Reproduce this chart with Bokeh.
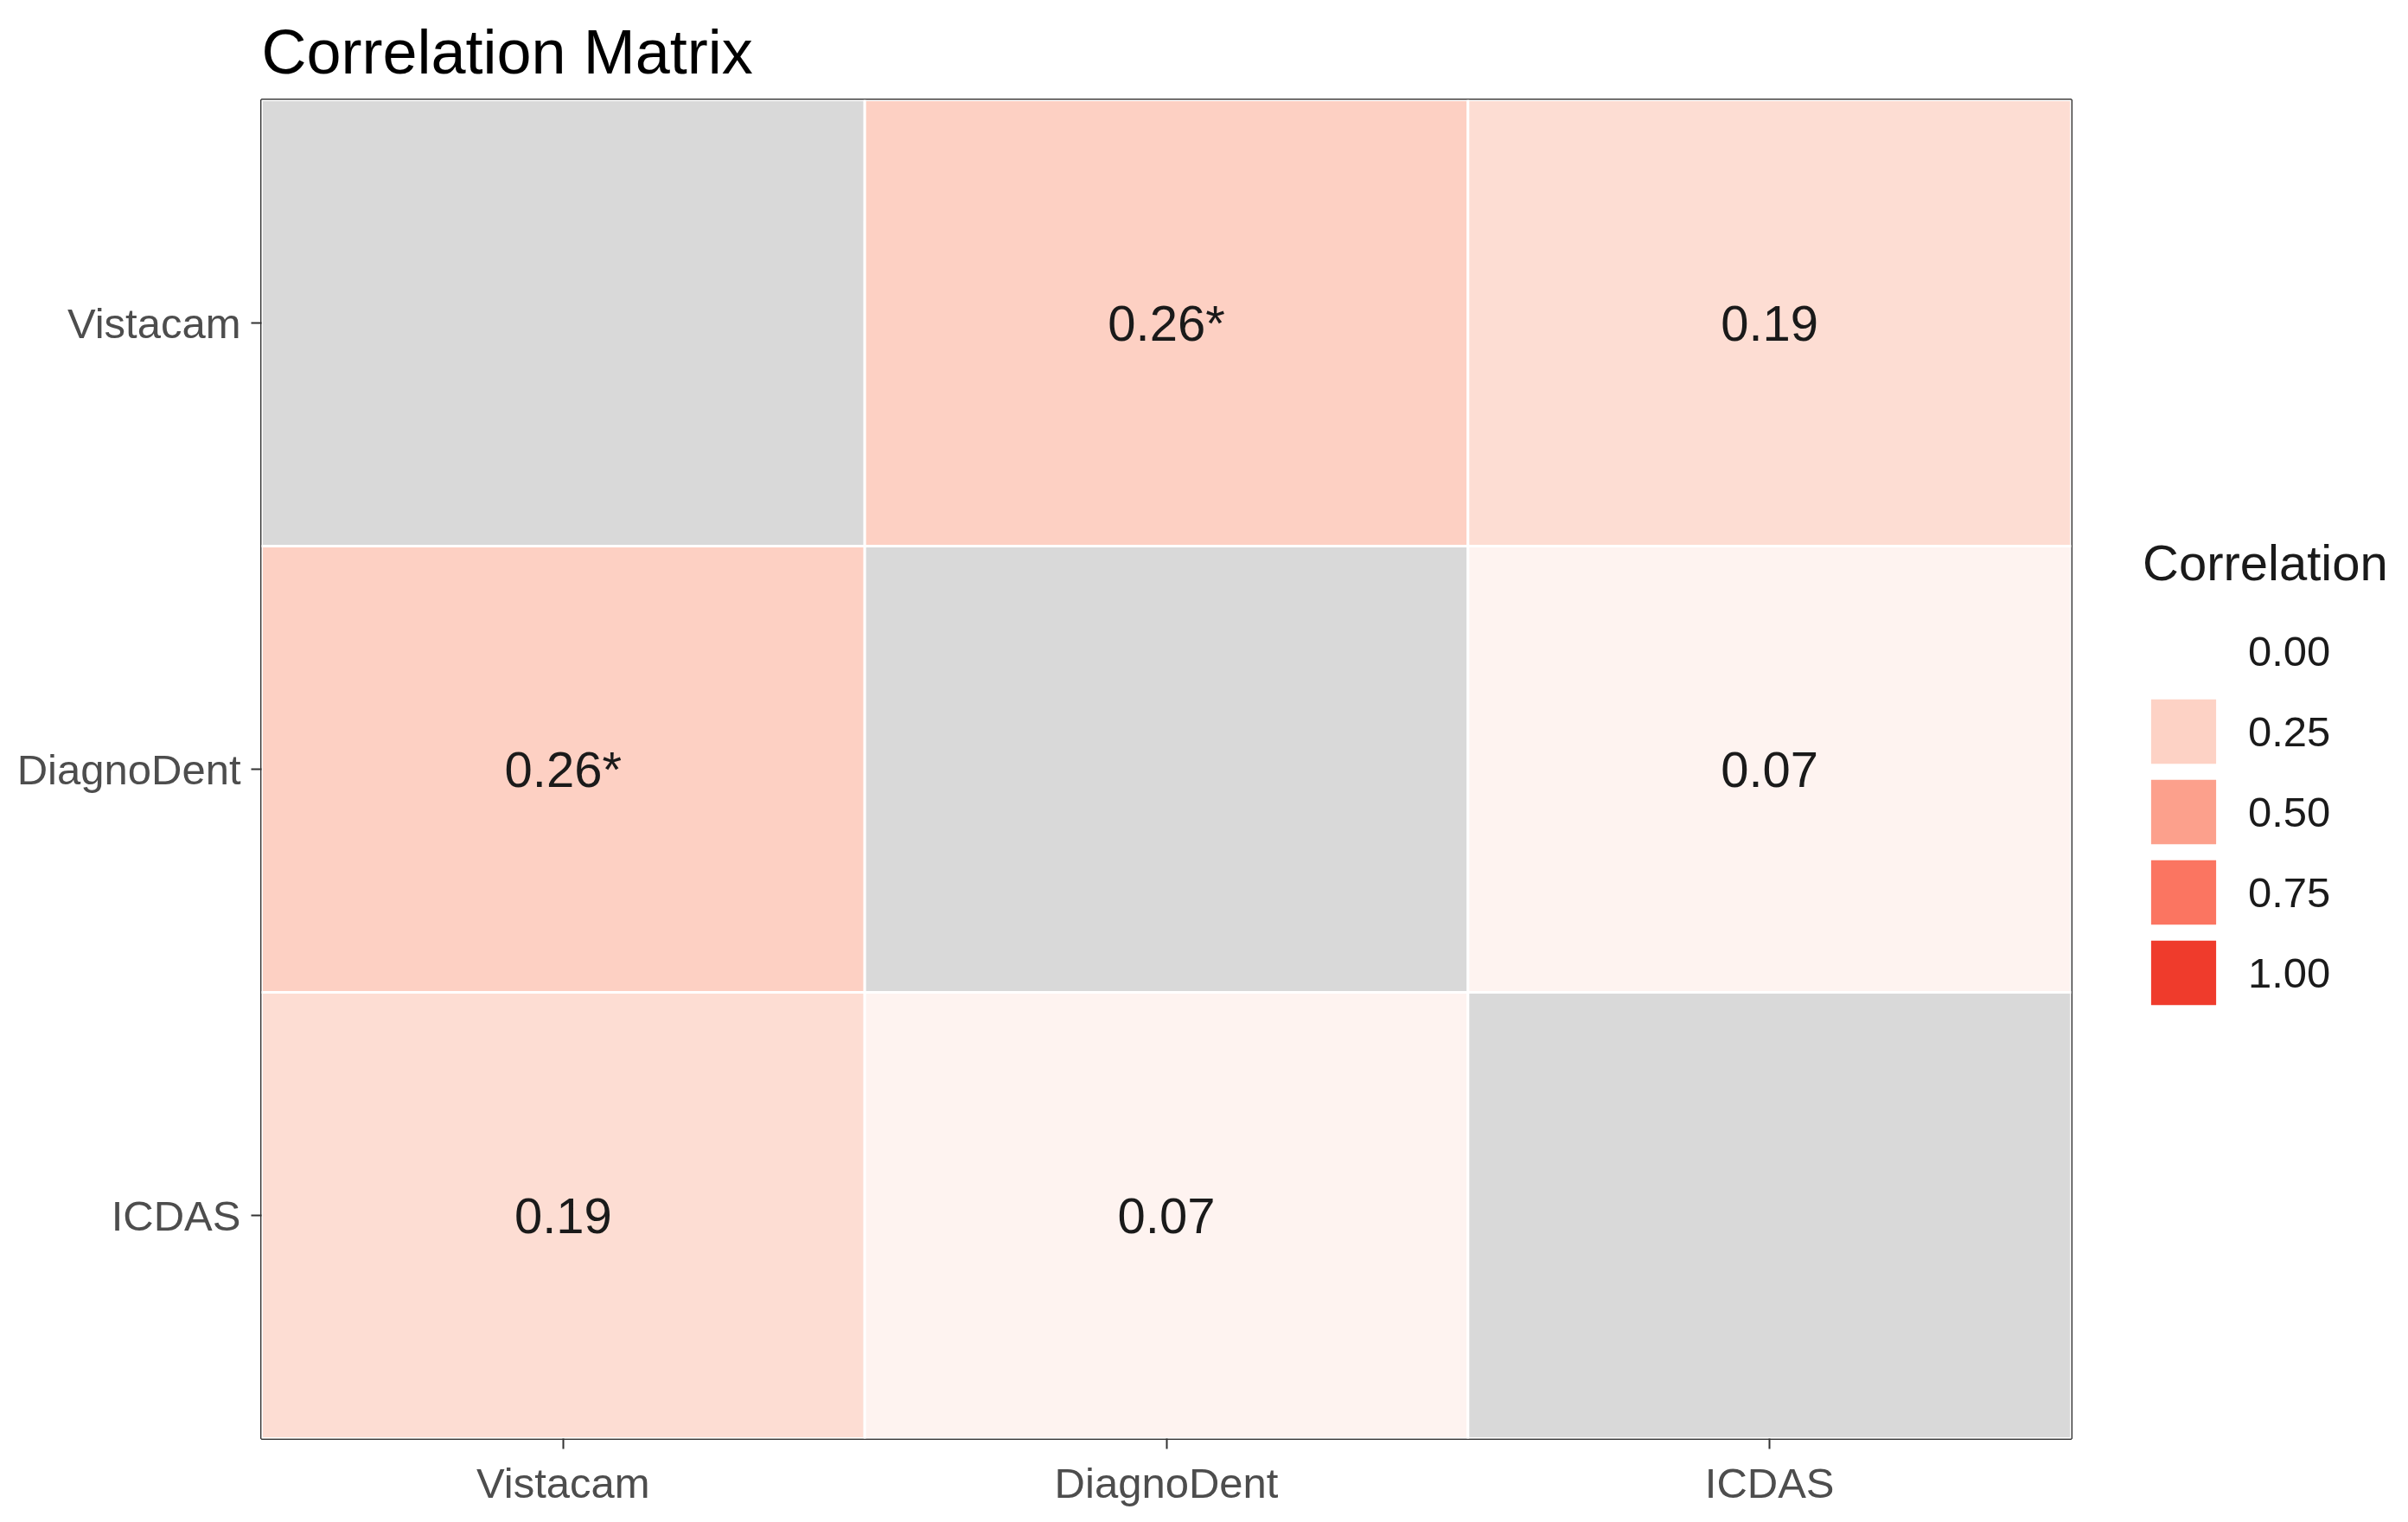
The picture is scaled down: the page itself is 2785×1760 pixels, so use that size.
import numpy as np
from bokeh.plotting import figure
from bokeh.layouts import row
from bokeh.models import ColumnDataSource, LinearColorMapper, Legend, LegendItem, FactorRange
from bokeh.core.properties import value
from bokeh.embed import file_html
from bokeh.resources import INLINE

# ---- data ----
variables = ["Vistacam", "DiagnoDent", "ICDAS"]
corr_vistacam = [np.nan, 0.26, 0.19]
corr_diagnodent = [0.26, np.nan, 0.07]
corr_icdas = [0.19, 0.07, np.nan]
label_vistacam = ["", "0.26*", "0.19"]
label_diagnodent = ["0.26*", "", "0.07"]
label_icdas = ["0.19", "0.07", ""]
legend_breaks = [0.00, 0.25, 0.50, 0.75, 1.00]
legend_labels = ["0.00", "0.25", "0.50", "0.75", "1.00"]

# colour scale anchors (white -> red)
anchor_vals = [0.0, 0.25, 0.5, 0.75, 1.0]
anchor_cols = [(255, 255, 255), (253, 210, 197), (252, 160, 140), (251, 117, 97), (239, 59, 44)]

def interp_color(v):
    for i in range(len(anchor_vals) - 1):
        if anchor_vals[i] <= v <= anchor_vals[i + 1]:
            t = (v - anchor_vals[i]) / (anchor_vals[i + 1] - anchor_vals[i])
            c = [round(a + (b - a) * t) for a, b in zip(anchor_cols[i], anchor_cols[i + 1])]
            return "#%02x%02x%02x" % tuple(c)
    return "#%02x%02x%02x" % anchor_cols[-1]

palette = [interp_color(i / 255) for i in range(256)]
mapper = LinearColorMapper(palette=palette, low=0, high=1, nan_color="#d9d9d9")

rows = [corr_vistacam, corr_diagnodent, corr_icdas]
lab_rows = [label_vistacam, label_diagnodent, label_icdas]
xs, ys, rs, labs = [], [], [], []
for i, yv in enumerate(variables):
    for j, xv in enumerate(variables):
        xs.append(xv)
        ys.append(yv)
        rs.append(rows[i][j])
        labs.append(lab_rows[i][j])
src = ColumnDataSource(dict(x=xs, y=ys, r=rs, lab=labs))

FONT = "Liberation Sans"
MAIN_W = 2435
TOTAL_W = 2777
H = 1744

p = figure(width=MAIN_W, height=H,
           x_range=FactorRange(factors=variables, range_padding=0),
           y_range=FactorRange(factors=variables[::-1], range_padding=0),
           output_backend="svg", toolbar_location=None,
           min_border_left=302, min_border_right=40, min_border_top=115, min_border_bottom=79,
           background_fill_color="white", border_fill_color="white")

p.rect(x="x", y="y", width=1, height=1, source=src,
       fill_color={"field": "r", "transform": mapper},
       line_color="white", line_width=3)
p.text(x="x", y="y", text="lab", source=src, text_align="center", text_baseline="middle",
       text_font=value(FONT), text_font_size="58px", text_color="#1a1a1a")

p.title.text = "Correlation Matrix"
p.title.text_font = FONT
p.title.text_font_size = "72px"
p.title.text_font_style = "normal"
p.title.text_color = "#000000"
p.title.align = "left"
p.title.vertical_align = "top"
p.title.offset = 0
p.title.standoff = 28

p.xgrid.visible = False
p.ygrid.visible = False
p.outline_line_color = "#333333"
p.outline_line_width = 3

for ax in (p.xaxis[0], p.yaxis[0]):
    ax.axis_line_color = None
    ax.major_tick_line_color = "#333333"
    ax.major_tick_line_width = 2
    ax.major_tick_out = 12
    ax.major_tick_in = 0
    ax.minor_tick_line_color = None
    ax.major_label_text_font = FONT
    ax.major_label_text_font_size = "49px"
    ax.major_label_text_color = "#4d4d4d"
    ax.major_label_standoff = 12

# ---- legend panel ----
lg = figure(width=TOTAL_W - MAIN_W, height=H, x_range=(0, 1), y_range=(0, 1),
            output_backend="svg", toolbar_location=None, min_border=0,
            outline_line_color=None, background_fill_color="white", border_fill_color="white")
lg.axis.visible = False
lg.grid.visible = False

items = []
for b, lab in zip(legend_breaks, legend_labels):
    col = interp_color(b)
    r = lg.rect(x=[0.5], y=[0.5], width=0, height=0, fill_color=col, line_color=None)
    items.append(LegendItem(label=lab, renderers=[r]))

leg = Legend(items=items, title="Correlation", location=(43, 492),
             glyph_width=94, glyph_height=93, spacing=0,
             label_standoff=28, label_text_font=FONT, label_text_font_size="49px",
             label_text_color="#1a1a1a",
             title_text_font=FONT, title_text_font_size="58px", title_text_font_style="normal",
             title_text_color="#1a1a1a", title_standoff=22,
             border_line_color=None, background_fill_alpha=0,
             margin=0, padding=10)
lg.add_layout(leg, "center")

layout = row(p, lg)
open("out.html", "w").write(file_html(layout, INLINE))
